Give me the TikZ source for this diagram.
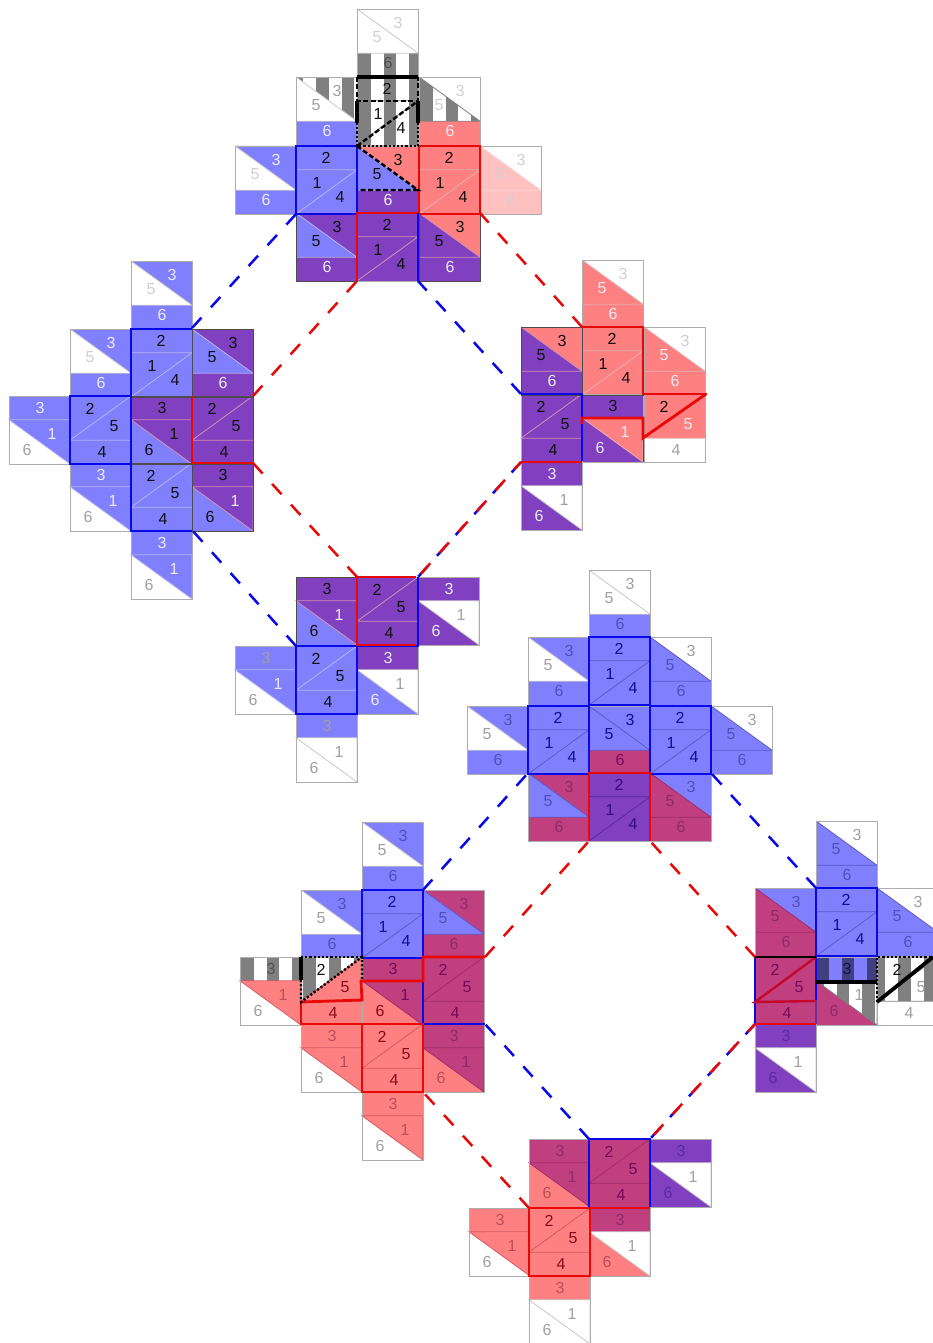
\documentclass[tikz,border=0pt]{standalone}
\usepackage{fontspec}
\setmainfont{Liberation Sans}
\definecolor{F-w}{HTML}{FFFFFF}
\definecolor{F-b}{HTML}{8080FF}
\definecolor{F-r}{HTML}{FF8080}
\definecolor{F-p}{HTML}{8040C0}
\definecolor{F-m}{HTML}{C0407F}
\definecolor{F-q}{HTML}{FFC0C0}
\definecolor{L-w}{HTML}{C8C8C8}
\definecolor{L-b}{HTML}{B4B4E8}
\definecolor{L-r}{HTML}{E0B0B0}
\definecolor{L-p}{HTML}{D090B0}
\definecolor{L-m}{HTML}{C0407F}
\definecolor{L-q}{HTML}{FFD8D8}
\definecolor{L-g}{HTML}{808080}
\definecolor{D-w}{HTML}{C8C8C8}
\definecolor{D-b}{HTML}{5A5AC8}
\definecolor{D-r}{HTML}{D05A60}
\definecolor{D-p}{HTML}{5A2A98}
\definecolor{D-m}{HTML}{A02A68}
\definecolor{D-q}{HTML}{FFD8D8}
\definecolor{D-g}{HTML}{808080}
\definecolor{D-n}{HTML}{404080}
\definecolor{L-n}{HTML}{404080}
\definecolor{T-k}{HTML}{101010}
\definecolor{T-l}{HTML}{ECECF4}
\definecolor{T-w}{HTML}{A0A0A0}
\definecolor{T-v}{HTML}{D0D0D0}
\definecolor{T-g}{HTML}{505050}
\definecolor{T-b}{HTML}{5050B8}
\definecolor{T-B}{HTML}{10108C}
\definecolor{T-r}{HTML}{B85058}
\definecolor{T-R}{HTML}{8C0818}
\definecolor{T-m}{HTML}{902A68}
\definecolor{T-M}{HTML}{780858}
\definecolor{T-p}{HTML}{5A2AA0}
\definecolor{T-P}{HTML}{3A0A80}
\definecolor{T-n}{HTML}{101050}
\definecolor{lineblue}{HTML}{0808E8}
\definecolor{linered}{HTML}{E80808}
\newcount\labn
\newcommand{\so}{1}
\newcommand{\lset}{L}
% one region, filled flat or in stripes
\newcommand{\zone}[2]{%
  \def\tst{#1}\def\tg{g}\def\tn{n}%
  \ifx\tst\tg
    \fill[white] #2;
    \begin{scope}\clip #2;
      \foreach \k in {-1,0,1,2,3}{\fill[stripegray] ({(\so+\k*25.6)/61},0) rectangle ({(\so+\k*25.6+12.8)/61},1);}
    \end{scope}
  \else\ifx\tst\tn
    \fill[F-b] #2;
    \begin{scope}\clip #2;
      \foreach \k in {0,1,2}{\fill[L-n] ({(1+\k*25)/61},0) rectangle ({(1+\k*25+11.5)/61},1);}
    \end{scope}
  \else
    \fill[F-#1] #2;
  \fi\fi}
\newcommand{\lab}[4]{\global\advance\labn by 1
  \node[digit,text=T-#4] (lab\the\labn) at (#1/61,#2/68) {#3};}
% #1 type, #2 x, #3 y, #4-6 fills of regions a b c, #7-9 text colours
\newcommand{\cell}[9]{%
  \begin{scope}[shift={(#2,#3)},x=61pt,y=-68pt]
  \def\ty{#1}\def\tA{A}\def\tB{B}\def\tC{C}%
  \ifx\ty\tA
    \zone{#4}{(0,0) -- (1,0) -- (1,.35) -- (0,.35) -- cycle}
    \zone{#5}{(0,.35) -- (1,.35) -- (0,1) -- cycle}
    \zone{#6}{(1,.35) -- (1,1) -- (0,1) -- cycle}
    \draw[inner,\lset-#5] (0,.35) -- (1,.35) -- (0,1);
    \lab{30}{12}{2}{#7}\lab{21}{37}{1}{#8}\lab{44}{51}{4}{#9}
  \else\ifx\ty\tB
    \zone{#4}{(0,0) -- (1,0) -- (1,.65) -- cycle}
    \zone{#5}{(0,0) -- (1,.65) -- (0,.65) -- cycle}
    \zone{#6}{(0,.65) -- (1,.65) -- (1,1) -- (0,1) -- cycle}
    \draw[inner,\lset-#5] (0,0) -- (1,.65) -- (0,.65);
    \lab{41}{14}{3}{#7}\lab{20}{28}{5}{#8}\lab{31}{54}{6}{#9}
  \else\ifx\ty\tC
    \zone{#4}{(0,0) -- (1,0) -- (0,.65) -- cycle}
    \zone{#5}{(1,0) -- (1,.65) -- (0,.65) -- cycle}
    \zone{#6}{(0,.65) -- (1,.65) -- (1,1) -- (0,1) -- cycle}
    \draw[inner,\lset-#5] (1,0) -- (0,.65) -- (1,.65);
    \lab{20}{13}{2}{#7}\lab{44}{30}{5}{#8}\lab{32}{56}{4}{#9}
  \else
    \zone{#4}{(0,0) -- (1,0) -- (1,.35) -- (0,.35) -- cycle}
    \zone{#5}{(0,.35) -- (1,.35) -- (1,1) -- cycle}
    \zone{#6}{(0,.35) -- (1,1) -- (0,1) -- cycle}
    \draw[inner,\lset-#5] (0,.35) -- (1,.35) -- (1,1) -- cycle;
    \lab{31}{12}{3}{#7}\lab{43}{38}{1}{#8}\lab{18}{54}{6}{#9}
  \fi\fi\fi
  \draw[frameline] (0,0) rectangle (1,1);
  \end{scope}}
\newcommand{\dkbox}[2]{\draw[darkline] (#1,#2) rectangle ++(61,68);}
\newcommand{\bbox}[2]{\draw[boxblue] (#1,#2) rectangle ++(61,68);}
\newcommand{\rbox}[2]{\draw[boxred] (#1,#2) rectangle ++(61,68);}
\tikzset{
  x=1pt,y=-1pt,
  digit/.style={font=\fontsize{16}{16}\selectfont,inner sep=0pt,anchor=center},
  stripegray/.style={fill=black!50},
  inner/.style={line width=.8pt},
  frameline/.style={draw=black!32,line width=.8pt},
  darkline/.style={draw=black!70,line width=.9pt},
  boxblue/.style={draw=lineblue,line width=2.8pt,line join=miter},
  boxred/.style={draw=linered,line width=2.8pt,line join=miter},
  blackthick/.style={draw=black,line width=3.8pt},
  blackdash/.style={draw=black,line width=2.4pt,dash pattern=on 5pt off 2.5pt},
  blackdot/.style={draw=black,line width=2.4pt,dash pattern=on 2.2pt off 2pt},
  bluedash/.style={draw=lineblue,line width=2.5pt,dash pattern=on 14pt off 14pt},
  reddash/.style={draw=linered,line width=2.5pt,dash pattern=on 14pt off 14pt},
}
\begin{document}
\begin{tikzpicture}
\useasboundingbox (0,0) rectangle (933,1343);
\clip (0,0) rectangle (933,1343);
\fill[white] (0,0) rectangle (933,1343);
%% ---- panel 1 (top)
\renewcommand{\so}{1}
\cell{B}{357}{9}{w}{w}{g}{v}{v}{g}
\renewcommand{\so}{20}
\cell{B}{296}{77}{g}{w}{b}{w}{w}{l}
\renewcommand{\so}{1}
\cell{A}{357}{77}{g}{g}{g}{k}{k}{k}
\cell{B}{419}{77}{w}{g}{r}{v}{v}{l}
\cell{B}{235}{146}{b}{w}{b}{l}{v}{l}
\cell{A}{296}{146}{b}{b}{b}{k}{k}{k}
\cell{B}{357}{146}{r}{b}{p}{k}{k}{l}
\cell{A}{419}{146}{r}{r}{r}{k}{k}{k}
\cell{B}{480}{146}{w}{q}{q}{v}{v}{v}
\cell{B}{296}{213}{p}{b}{p}{k}{k}{l}
\cell{A}{357}{213}{p}{p}{p}{k}{k}{k}
\cell{B}{419}{213}{r}{p}{p}{k}{k}{l}
\dkbox{296}{213}\dkbox{419}{213}
\bbox{296}{146}
\rbox{419}{146}
\draw[boxred] (357,281) -- (357,213) -- (418,213);
\draw[boxblue] (418,213) -- (418,281);
\draw[blackthick] (357,77) -- (418,77);
\draw[blackdash] (357,77) -- (357,101) -- (418,101) -- (418,77);
\draw[blackthick] (357,101) -- (357,123);
\draw[blackthick] (418,101) -- (418,123);
\draw[blackdot] (357,123) -- (357,146) -- (418,146) -- (418,123);
\draw[blackdash] (357,146) -- (418,101);
\draw[blackdash] (357,146) -- (418,190) -- (357,190);
%% ---- panel 2 (left)
\cell{B}{131}{261}{b}{w}{b}{l}{v}{l}
\cell{B}{70}{329}{b}{w}{b}{l}{v}{l}
\cell{A}{131}{329}{b}{b}{b}{k}{k}{k}
\cell{B}{192}{329}{p}{b}{p}{k}{k}{l}
\cell{D}{9}{396}{b}{b}{w}{l}{l}{w}
\cell{C}{70}{396}{b}{b}{b}{k}{k}{k}
\cell{D}{131}{396}{p}{p}{b}{k}{k}{k}
\cell{C}{192}{396}{p}{p}{p}{k}{k}{k}
\cell{D}{70}{463}{b}{b}{w}{l}{l}{w}
\cell{C}{131}{463}{b}{b}{b}{k}{k}{k}
\cell{D}{192}{463}{p}{p}{b}{k}{l}{k}
\cell{D}{131}{531}{b}{b}{w}{l}{l}{w}
\dkbox{131}{329}\dkbox{192}{329}\dkbox{131}{396}\dkbox{192}{463}\dkbox{131}{463}\dkbox{192}{396}
\draw[boxblue] (131,396) -- (131,329) -- (192,329);
\bbox{70}{396}
\draw[boxblue] (131,463) -- (131,531) -- (192,531);
\draw[boxred] (192,396) -- (192,463) -- (253,463);
%% ---- panel 3 (right)
\cell{B}{582}{260}{w}{r}{r}{v}{l}{l}
\cell{B}{521}{327}{r}{p}{p}{k}{k}{l}
\cell{A}{582}{327}{r}{r}{r}{k}{k}{k}
\cell{B}{644}{327}{w}{r}{r}{v}{l}{l}
\cell{C}{521}{394}{p}{p}{p}{k}{k}{k}
\cell{D}{582}{394}{p}{r}{p}{k}{l}{l}
\cell{C}{644}{394}{r}{r}{w}{k}{l}{w}
\cell{D}{521}{462}{p}{w}{p}{l}{w}{l}
\dkbox{521}{327}\dkbox{582}{327}
\draw[boxred] (582,327) -- (643,327) -- (643,394) -- (707,394);
\draw[boxred] (521,462) -- (582,462);
\draw[boxblue] (521,394) -- (582,394) -- (582,461);
\draw[boxred] (582,424) -- (582,418) -- (643,418) -- (643,438) -- (706,394);
\draw[darkline] (643,438) -- (643,462);
%% ---- panel 4 (bottom of upper diamond)
\cell{D}{296}{577}{p}{p}{b}{k}{l}{k}
\cell{C}{357}{577}{p}{p}{p}{k}{k}{k}
\cell{D}{418}{577}{p}{w}{p}{l}{w}{l}
\cell{D}{235}{646}{b}{b}{w}{w}{l}{w}
\cell{C}{296}{646}{b}{b}{b}{k}{k}{k}
\cell{D}{357}{646}{p}{w}{b}{l}{w}{l}
\cell{D}{296}{714}{b}{w}{w}{w}{w}{w}
\dkbox{296}{577}
\bbox{296}{646}
\draw[boxblue] (357,646) -- (418,646) -- (418,577);
\draw[boxred] (357,577) -- (357,645) -- (416,645);
\draw[linered,line width=1.6pt] (357,577) -- (416,577);
%% ---- panel 5 (top of lower diamond)
\renewcommand{\lset}{D}
\cell{B}{589}{570}{w}{w}{b}{w}{w}{b}
\cell{B}{528}{637}{b}{w}{b}{b}{w}{b}
\cell{A}{589}{637}{b}{b}{b}{B}{B}{B}
\cell{B}{650}{637}{w}{b}{b}{w}{b}{b}
\cell{B}{467}{706}{b}{w}{b}{b}{w}{b}
\cell{A}{528}{706}{b}{b}{b}{B}{B}{B}
\cell{B}{589}{706}{b}{b}{m}{B}{B}{M}
\cell{A}{650}{706}{b}{b}{b}{B}{B}{B}
\cell{B}{711}{706}{w}{b}{b}{w}{b}{b}
\cell{B}{528}{773}{m}{b}{m}{m}{b}{m}
\cell{A}{589}{773}{p}{p}{p}{P}{P}{P}
\cell{B}{650}{773}{b}{m}{m}{b}{m}{m}
\bbox{589}{637}\bbox{528}{706}\bbox{650}{706}
\draw[boxred] (589,841) -- (589,773) -- (650,773) -- (650,841);
%% ---- panel 6 (left of lower diamond)
\cell{B}{362}{822}{b}{w}{b}{b}{w}{b}
\cell{B}{301}{890}{b}{w}{b}{b}{w}{b}
\cell{A}{362}{890}{b}{b}{b}{B}{B}{B}
\cell{B}{423}{890}{m}{b}{m}{m}{b}{m}
\renewcommand{\so}{1}
\cell{D}{240}{957}{g}{r}{w}{g}{r}{w}
\renewcommand{\so}{2}
\cell{C}{301}{957}{g}{r}{r}{k}{R}{R}
\cell{D}{362}{957}{m}{m}{r}{M}{M}{R}
\cell{C}{423}{957}{m}{m}{m}{M}{M}{M}
\cell{D}{301}{1024}{r}{r}{w}{r}{r}{w}
\cell{C}{362}{1024}{r}{r}{r}{R}{R}{R}
\cell{D}{423}{1024}{m}{m}{r}{m}{m}{r}
\cell{D}{362}{1092}{r}{r}{w}{r}{r}{w}
\bbox{362}{890}
\draw[boxblue] (423,957) -- (423,1024) -- (485,1024);
\draw[boxred] (362,1024) rectangle (423,1092);
\draw[boxred] (301,1002) -- (362,1000) -- (361,981) -- (423,981) -- (423,957) -- (485,957);
\draw[boxred] (301,1002) -- (301,1024) -- (362,1024);
\draw[blackthick] (301,957) -- (301,980);
\draw[blackdot] (301,980) -- (301,1002) -- (362,957) -- (362,980);
\draw[blackdot] (301,957) -- (362,957);
%% ---- panel 7 (right of lower diamond)
\renewcommand{\so}{1}
\cell{B}{816}{821}{w}{b}{b}{w}{b}{b}
\cell{B}{755}{888}{b}{m}{m}{b}{m}{m}
\cell{A}{816}{888}{b}{b}{b}{B}{B}{B}
\cell{B}{877}{888}{w}{b}{b}{w}{b}{b}
\cell{C}{755}{957}{m}{m}{m}{M}{M}{M}
\renewcommand{\so}{-5}
\cell{D}{816}{957}{n}{g}{m}{n}{w}{m}
\renewcommand{\so}{21}
\cell{C}{877}{957}{g}{g}{w}{k}{w}{w}
\cell{D}{755}{1024}{p}{w}{p}{p}{w}{p}
\bbox{816}{888}
\draw[lineblue,line width=1.6pt] (755,957) -- (755,1024);
\draw[lineblue,line width=2.2pt] (816,957) -- (816,1000);
\draw[F-p!80!black,line width=2.6pt] (816,1000) -- (816,1024);
\draw[linered!85!blue,line width=2.4pt] (816,957) -- (755,1002) -- (816,1001);
\draw[boxred] (755,1024) -- (816,1024);
\draw[blackthick,line width=2.4pt] (755,957) -- (816,957);
\draw[blackthick] (816,982) -- (877,982);
\draw[blackthick] (877,1002) -- (933,957);
\draw[blackdot] (877,1002) -- (877,957) -- (933,957);
%% ---- panel 8 (bottom)
\renewcommand{\so}{1}
\cell{D}{529}{1139}{m}{m}{r}{m}{m}{r}
\cell{C}{589}{1139}{m}{m}{m}{M}{M}{M}
\cell{D}{650}{1139}{p}{w}{p}{p}{w}{p}
\cell{D}{469}{1208}{r}{r}{w}{r}{r}{w}
\cell{C}{529}{1208}{r}{r}{r}{R}{R}{R}
\cell{D}{589}{1208}{m}{w}{r}{m}{w}{r}
\cell{D}{529}{1276}{r}{w}{w}{r}{w}{w}
\draw[boxblue] (589,1207) -- (589,1139) -- (650,1139) -- (650,1207);
\draw[boxred] (589,1208) -- (650,1208);
\rbox{529}{1208}
%% ---- connectors
\coordinate (a1) at (297,213); \coordinate (a2) at (192,328);
\coordinate (b1) at (357,281); \coordinate (b2) at (253,396);
\coordinate (c1) at (418,281); \coordinate (c2) at (521,394);
\coordinate (d1) at (480,213); \coordinate (d2) at (582,327);
\coordinate (e1) at (253,463); \coordinate (e2) at (357,577);
\coordinate (f1) at (192,530); \coordinate (f2) at (296,646);
\coordinate (g1) at (521,462); \coordinate (g2) at (418,577);
\coordinate (h1) at (528,773); \coordinate (h2) at (423,890);
\coordinate (i1) at (589,841); \coordinate (i2) at (485,957);
\coordinate (j1) at (650,841); \coordinate (j2) at (755,957);
\coordinate (k1) at (711,773); \coordinate (k2) at (816,888);
\coordinate (l1) at (485,1024); \coordinate (l2) at (589,1139);
\coordinate (m1) at (423,1092); \coordinate (m2) at (529,1208);
\coordinate (n1) at (755,1024); \coordinate (n2) at (650,1139);
\draw[bluedash] (a2) -- (a1);
\draw[reddash] (b2) -- (b1);
\draw[bluedash] (c2) -- (c1);
\draw[reddash] (d2) -- (d1);
\draw[reddash] (e2) -- (e1);
\draw[bluedash] (f2) -- (f1);
\draw[bluedash] (g1) -- (g2);
\draw[reddash,dash phase=4pt] (g1) -- (g2);
\draw[bluedash] (h2) -- (h1);
\draw[reddash] (i2) -- (i1);
\draw[reddash] (j2) -- (j1);
\draw[bluedash] (k2) -- (k1);
\draw[bluedash] (l2) -- (l1);
\draw[reddash] (m2) -- (m1);
\draw[bluedash] (n1) -- (n2);
\draw[reddash,dash phase=4pt] (n1) -- (n2);
\end{tikzpicture}
\end{document}
